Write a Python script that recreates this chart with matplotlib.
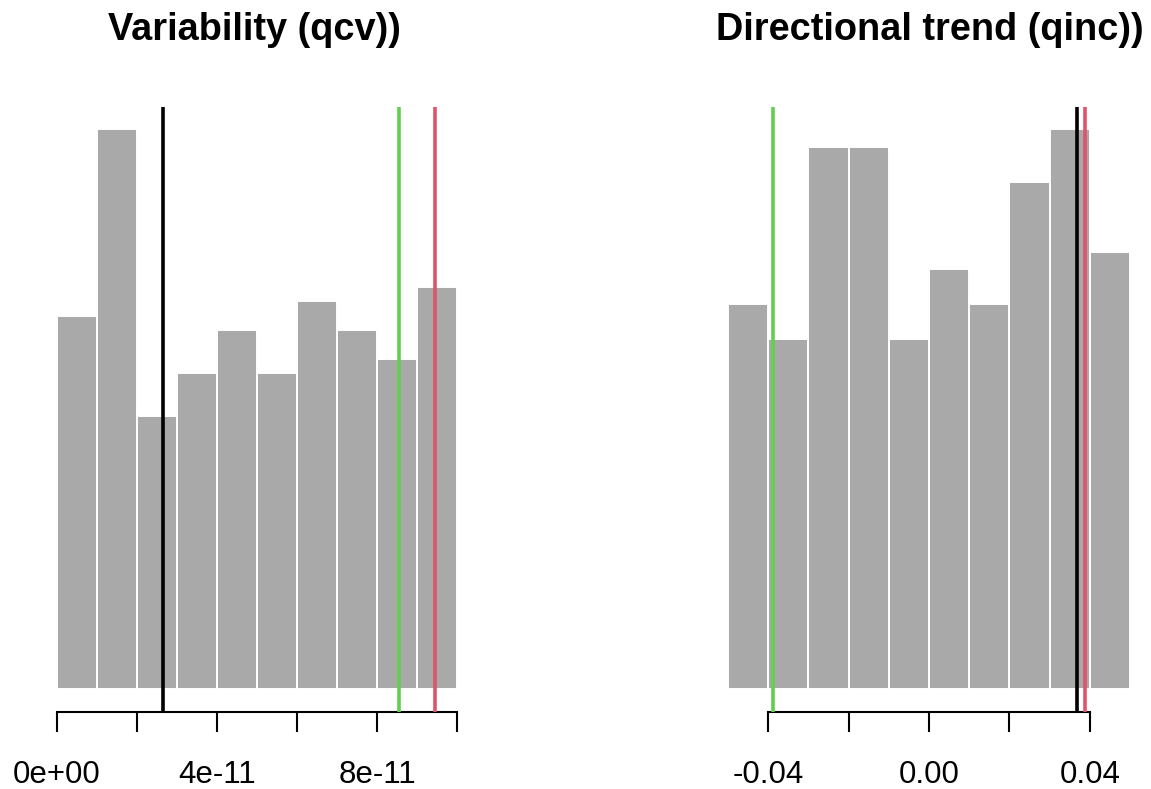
import matplotlib
matplotlib.use("Agg")
import matplotlib.pyplot as plt
import numpy as np

plt.rcParams['font.family'] = ['Liberation Sans', 'DejaVu Sans']

# Left panel: Variability (qcv)
qcv_edges = [0e0, 1e-11, 2e-11, 3e-11, 4e-11, 5e-11, 6e-11, 7e-11, 8e-11, 9e-11, 1e-10]
qcv_counts = [26, 39, 19, 22, 25, 22, 27, 25, 23, 28]
qcv_ticks = [0, 2e-11, 4e-11, 6e-11, 8e-11, 1e-10]
qcv_ticklabels = ["0e+00", "", "4e-11", "", "8e-11", ""]
qcv_lines = [2.65e-11, 8.55e-11, 9.44e-11]   # black, green, red

# Right panel: Directional trend (qinc)
qinc_edges = [-0.05, -0.04, -0.03, -0.02, -0.01, 0.0, 0.01, 0.02, 0.03, 0.04, 0.05]
qinc_counts = [22, 20, 31, 31, 20, 24, 22, 29, 32, 25]
qinc_ticks = [-0.04, -0.02, 0.0, 0.02, 0.04]
qinc_ticklabels = ["-0.04", "", "0.00", "", "0.04"]
qinc_lines = [0.0369, -0.0389, 0.0389]       # black, green, red

titles = ["Variability (qcv))", "Directional trend (qinc))"]
line_colors = ["black", "#61D04F", "#DF536B"]

W, H = 1151, 789
fig = plt.figure(figsize=(W/100, H/100), dpi=100)

top_px, bot_px = 106.6, 711.6
panels = [
    (41, 473, qcv_edges, qcv_counts, qcv_ticks, qcv_ticklabels, qcv_lines, titles[0], 254),
    (712, 1146, qinc_edges, qinc_counts, qinc_ticks, qinc_ticklabels, qinc_lines, titles[1], 930),
]

for (x0, x1, edges, counts, ticks, tlabels, vlines, title, tx) in panels:
    ax = fig.add_axes([x0/W, 1 - bot_px/H, (x1-x0)/W, (bot_px-top_px)/H])
    edges = np.array(edges)
    widths = np.diff(edges)
    ax.bar(edges[:-1], counts, width=widths, align='edge', color='#A9A9A9',
           edgecolor='white', linewidth=1.4)
    rng = edges[-1] - edges[0]
    ax.set_xlim(edges[0] - 0.04*rng, edges[-1] + 0.04*rng)
    m = max(counts)
    ax.set_ylim(-0.04*m, 1.04*m)
    for v, c in zip(vlines, line_colors):
        ax.axvline(v, color=c, lw=2.6, solid_capstyle='butt', zorder=3)
    for s in ['top', 'right', 'left']:
        ax.spines[s].set_visible(False)
    ax.spines['bottom'].set_bounds(ticks[0], ticks[-1])
    ax.spines['bottom'].set_linewidth(1.5)
    ax.set_yticks([])
    ax.set_xticks(ticks)
    ax.set_xticklabels(tlabels)
    ax.tick_params(axis='x', direction='out', length=14.5, width=1.5,
                   labelsize=22.5, pad=20)
    fig.text(tx / W, 1 - 40/H, title, ha='center', va='baseline',
             fontsize=27.3, fontweight='bold')

fig.savefig("out.png", dpi=100)
